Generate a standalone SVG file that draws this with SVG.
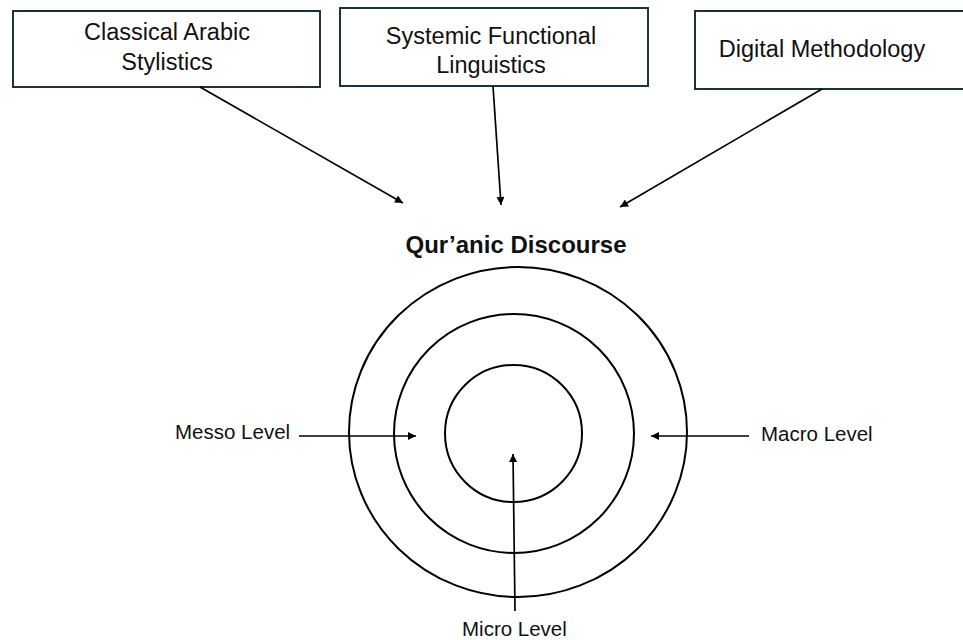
<svg xmlns="http://www.w3.org/2000/svg" width="963" height="640" viewBox="0 0 963 640">
<style>
.box{fill:#fff;stroke:#1e3140;stroke-width:2}
.t{font-family:"Liberation Sans",Arial,sans-serif;font-size:23.5px;fill:#111;text-anchor:middle}
.lbl{font-family:"Liberation Sans",Arial,sans-serif;font-size:20.5px;fill:#111}
.ring{fill:none;stroke:#000;stroke-width:2}
.c{fill:none;stroke:#000;stroke-width:1.7;marker-end:url(#ah)}
</style>
<defs>
<marker id="ah" viewBox="0 0 10 10" refX="10" refY="5" markerWidth="9" markerHeight="8" markerUnits="userSpaceOnUse" orient="auto">
<path d="M0,0 L10,5 L0,10 z" fill="#000"/>
</marker>
</defs>
<rect width="963" height="640" fill="#fff"/>
<g id="node-classical">
<rect class="box" x="13" y="11" width="307" height="76"/>
<text class="t" x="167" y="40">Classical Arabic</text>
<text class="t" x="167" y="70">Stylistics</text>
</g>
<g id="node-sfl">
<rect class="box" x="340" y="8" width="308" height="78"/>
<text class="t" x="491" y="44">Systemic Functional</text>
<text class="t" x="491" y="73">Linguistics</text>
</g>
<g id="node-digital">
<rect class="box" x="695" y="11" width="300" height="78"/>
<text class="t" x="822" y="57">Digital Methodology</text>
</g>
<g id="node-discourse">
<text x="516" y="253" font-family="'Liberation Sans',Arial,sans-serif" font-size="24" font-weight="bold" text-anchor="middle" fill="#111">Qur’anic Discourse</text>
<ellipse class="ring" cx="518" cy="432" rx="169" ry="165"/>
<ellipse class="ring" cx="514" cy="433.5" rx="120" ry="119.5"/>
<circle class="ring" cx="513.5" cy="433.5" r="68.5"/>
</g>
<g id="node-messo"><text class="lbl" x="175" y="439">Messo Level</text></g>
<g id="node-macro"><text class="lbl" x="761" y="441">Macro Level</text></g>
<g id="node-micro"><text class="lbl" x="462" y="636">Micro Level</text></g>
<g id="connectors">
<line class="c" x1="200" y1="87" x2="403" y2="203"/>
<line class="c" x1="493" y1="86" x2="501" y2="205"/>
<line class="c" x1="822" y1="89" x2="620" y2="207"/>
<line class="c" x1="299" y1="436" x2="416" y2="436"/>
<line class="c" x1="749" y1="436" x2="651" y2="436"/>
<line class="c" x1="515" y1="611" x2="513" y2="454"/>
</g>
</svg>
